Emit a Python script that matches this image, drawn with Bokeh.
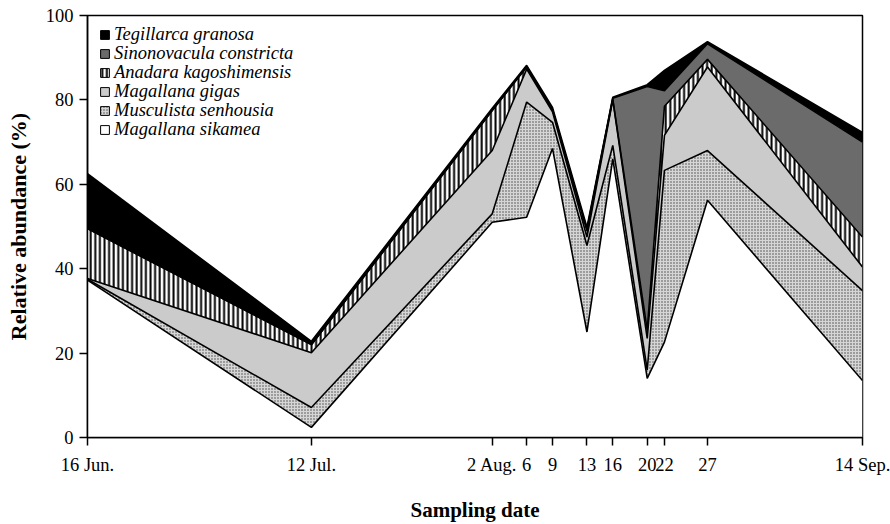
import pandas as pd
from bokeh.plotting import figure
from bokeh.models import ColumnDataSource, FixedTicker, Legend, LegendItem, Range1d
from bokeh.transform import stack
from bokeh.embed import file_html
from bokeh.resources import INLINE

# Sampling dates (year arbitrary) and tick labels
dates = ["2021-06-16", "2021-07-12", "2021-08-02", "2021-08-06", "2021-08-09",
         "2021-08-13", "2021-08-16", "2021-08-20", "2021-08-22", "2021-08-27",
         "2021-09-14"]
tick_labels = ["16 Jun.", "12 Jul.", "2 Aug.", "6", "9", "13", "16", "20", "22", "27", "14 Sep."]

# Relative abundance (%) per species, stacked bottom to top
sikamea      = [37.3, 2.4, 51.0, 52.2, 68.5, 25.0, 66.0, 14.0, 22.6, 56.2, 13.5]
senhousia    = [0.2, 4.7, 2.0, 27.3, 6.2, 20.5, 3.2, 2.0, 40.7, 11.8, 21.3]
gigas        = [0.2, 13.0, 15.0, 7.8, 2.5, 2.0, 10.8, 7.5, 8.3, 19.8, 5.6]
anadara      = [11.8, 1.9, 9.5, 0.5, 0.5, 1.5, 0.2, 2.0, 6.9, 1.8, 7.1]
sinonovacula = [0.0, 0.0, 0.0, 0.0, 0.0, 0.3, 0.2, 57.7, 3.7, 3.7, 22.5]
tegillarca   = [13.0, 0.8, 0.5, 0.4, 0.5, 0.5, 0.2, 0.4, 4.8, 0.5, 2.3]

names = ["sikamea", "senhousia", "gigas", "anadara", "sinonovacula", "tegillarca"]
labels = ["Magallana sikamea", "Musculista senhousia", "Magallana gigas",
          "Anadara kagoshimensis", "Sinonovacula constricta", "Tegillarca granosa"]

styles = {
    "sikamea":      dict(fill_color="white"),
    "senhousia":    dict(fill_color="#d6d6d6", hatch_pattern="dot", hatch_scale=3,
                         hatch_color="#444444", hatch_weight=1),
    "gigas":        dict(fill_color="#cbcbcb"),
    "anadara":      dict(fill_color="white", hatch_pattern="vertical_line", hatch_scale=4.6,
                         hatch_color="black", hatch_weight=2),
    "sinonovacula": dict(fill_color="#6b6b6b"),
    "tegillarca":   dict(fill_color="black"),
}

d = pd.to_datetime(dates)
days = [(x - d[0]).days for x in d]

src = ColumnDataSource(dict(x=days, sikamea=sikamea, senhousia=senhousia, gigas=gigas,
                            anadara=anadara, sinonovacula=sinonovacula, tegillarca=tegillarca))

SERIF = "Liberation Serif"

p = figure(width=890, height=524, output_backend="svg", toolbar_location=None,
           x_range=Range1d(days[0], days[-1]), y_range=Range1d(0, 100),
           min_border_left=87, min_border_right=28, min_border_top=15, min_border_bottom=87)
p.grid.visible = False
p.outline_line_color = "black"
p.outline_line_width = 1.5
p.background_fill_color = "white"

for i, n in enumerate(names):
    p.varea(x="x", y1=stack(*names[:i]), y2=stack(*names[:i + 1]), source=src, **styles[n])
p.vline_stack(names, x="x", source=src, line_color="black", line_width=1.6)

# Legend: one single-row legend per species, top to bottom
nan = float("nan")
order = list(zip(names, labels))[::-1]
for k, (n, lab) in enumerate(order):
    r = p.quad(left=[nan], right=[nan], top=[nan], bottom=[nan], line_color="black",
               line_width=1, **styles[n])
    lg = Legend(items=[LegendItem(label=lab, renderers=[r])], location=(12, 392 - 19 * k))
    lg.border_line_color = None
    lg.background_fill_alpha = 0
    lg.padding = 0
    lg.margin = 0
    lg.spacing = 0
    lg.glyph_width = 11
    lg.glyph_height = 11
    lg.label_height = 19
    lg.label_standoff = 4
    lg.label_text_font = SERIF
    lg.label_text_font_style = "italic"
    lg.label_text_font_size = "18.5px"
    lg.label_text_color = "black"
    p.add_layout(lg, "center")

# Axes
p.xaxis.ticker = FixedTicker(ticks=days)
p.xaxis.major_label_overrides = {dd: t for dd, t in zip(days, tick_labels)}
p.yaxis.ticker = FixedTicker(ticks=[0, 20, 40, 60, 80, 100])
for ax in (p.xaxis[0], p.yaxis[0]):
    ax.axis_line_color = "black"
    ax.axis_line_width = 1.5
    ax.major_tick_line_color = "black"
    ax.major_tick_line_width = 1.5
    ax.major_tick_out = 8
    ax.major_tick_in = 0
    ax.minor_tick_line_color = None
    ax.major_label_text_font = SERIF
    ax.major_label_text_font_size = "18.5px"
    ax.major_label_text_color = "black"
    ax.axis_label_text_font = SERIF
    ax.axis_label_text_font_style = "bold"
    ax.axis_label_text_color = "black"

p.xaxis.axis_label = "Sampling date"
p.xaxis.axis_label_text_font_size = "21px"
p.xaxis.major_label_standoff = 9
p.xaxis.axis_label_standoff = 20
p.yaxis.axis_label = "Relative abundance (%)"
p.yaxis.axis_label_text_font_size = "22px"
p.yaxis.major_label_standoff = 6
p.yaxis.axis_label_standoff = 12

open("out.html", "w").write(file_html(p, INLINE))
